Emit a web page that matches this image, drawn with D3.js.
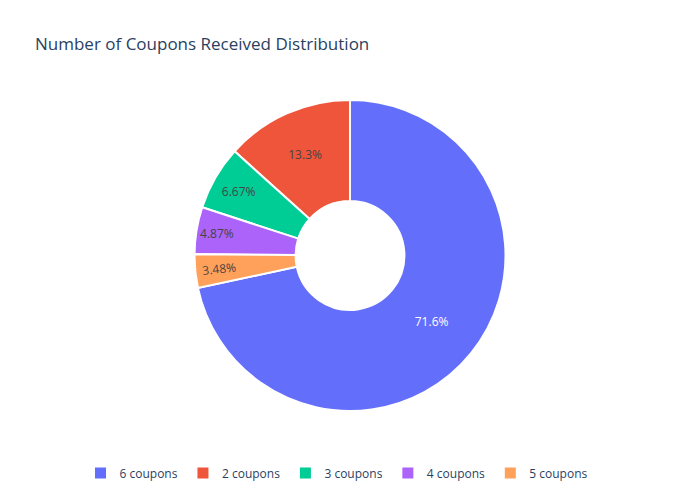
<!DOCTYPE html>
<html>
<head>
<meta charset="utf-8">
<script src="https://cdn.jsdelivr.net/npm/d3@7"></script>
<style>
  body { margin: 0; background: #fff; }
  text { font-family: "Open Sans", verdana, arial, sans-serif; }
</style>
</head>
<body>
<script>
// data
const labels = ["6 coupons", "2 coupons", "3 coupons", "4 coupons", "5 coupons"];
const shares = [71.6, 13.3, 6.67, 4.87, 3.48];
const colors = ["#636efa", "#EF553B", "#00cc96", "#ab63fa", "#FFA15A"];
const textColors = ["#ffffff", "#444444", "#444444", "#444444", "#444444"];

const w = 700;
const h = 500;
const cx = 350;
const cy = 255.5;
const outerR = 155.5;
const hole = 0.35;
const innerR = outerR * hole;

const svg = d3.select("body")
  .append("svg")
  .attr("width", w)
  .attr("height", h);

// title
svg.append("text")
  .attr("x", 35)
  .attr("y", 50)
  .attr("font-size", 17)
  .attr("fill", "#2a3f5f")
  .text("Number of Coupons Received Distribution");

const rows = labels.map((l, i) => ({ label: l, value: shares[i], color: colors[i], tc: textColors[i] }));
const total = d3.sum(shares);

// plotly style: counterclockwise, first slice ends at 12 o'clock
const a0 = 2 * Math.PI * shares[0] / total;
const pie = d3.pie()
  .sort(null)
  .value(d => d.value)
  .startAngle(a0)
  .endAngle(a0 - 2 * Math.PI);

const arc = d3.arc().innerRadius(innerR).outerRadius(outerR);

const g = svg.append("g").attr("transform", `translate(${cx},${cy})`);

const arcs = pie(rows);

g.selectAll("path.slice")
  .data(arcs)
  .enter()
  .append("path")
  .attr("class", "slice")
  .attr("d", arc)
  .attr("fill", d => d.data.color)
  .attr("stroke", "#fff")
  .attr("stroke-width", 2);

// labels, placed roughly the way plotly fits inside text
const ring = 1 - hole;
const TEXTPAD = 3;

function fmt(v) {
  return d3.format(".3~r")(v) + "%";
}

arcs.forEach(d => {
  const mid = (d.startAngle + d.endAngle) / 2;
  const halfAngle = Math.abs(d.endAngle - d.startAngle) / 2;
  const t = g.append("text")
    .attr("font-size", 12)
    .attr("fill", d.data.tc)
    .attr("text-anchor", "middle")
    .attr("dominant-baseline", "central")
    .text(fmt(d.data.value));
  const bb = t.node().getBBox();
  const tw = bb.width;
  const th = bb.height;

  // horizontal fit: inscribed circle of slice
  const rIns = Math.min(1 / (1 + 1 / Math.sin(Math.min(halfAngle, Math.PI / 2))), ring / 2);
  const diam = Math.sqrt(tw * tw + th * th);
  let rCenter = 1 - rIns;
  let rot = 0;
  if (rIns * outerR * 2 / diam < 1) {
    // radial orientation
    const r = outerR - 2 * TEXTPAD;
    const a = tw / th;
    const q = a + 1 / (2 * Math.tan(halfAngle));
    const s = r * Math.min(1 / (Math.sqrt(q * q + 0.5) + q), ring / (Math.sqrt(a * a + ring / 2) + a));
    const b = s / r;
    rCenter = Math.cos(b) - a * b;
    let deg = Math.atan2(-Math.cos(mid), Math.sin(mid)) * 180 / Math.PI;
    if (deg > 90) deg -= 180;
    if (deg < -90) deg += 180;
    rot = deg;
  }
  const x = outerR * rCenter * Math.sin(mid);
  const y = -outerR * rCenter * Math.cos(mid);
  t.attr("transform", `translate(${x},${y}) rotate(${rot})`);
});

// legend
const legend = svg.append("g")
  .attr("transform", "translate(80.5,473)");

let lx = 0;
labels.forEach((l, i) => {
  const item = legend.append("g").attr("transform", `translate(${lx},0)`);
  item.append("rect")
    .attr("x", 14.5)
    .attr("y", -5.5)
    .attr("width", 11)
    .attr("height", 11)
    .attr("fill", colors[i]);
  const txt = item.append("text")
    .attr("x", 39)
    .attr("y", 4.5)
    .attr("font-size", 12)
    .attr("fill", "#2a3f5f")
    .text(l);
  lx += 40 + txt.node().getComputedTextLength() + 4.5;
});
</script>
</body>
</html>
